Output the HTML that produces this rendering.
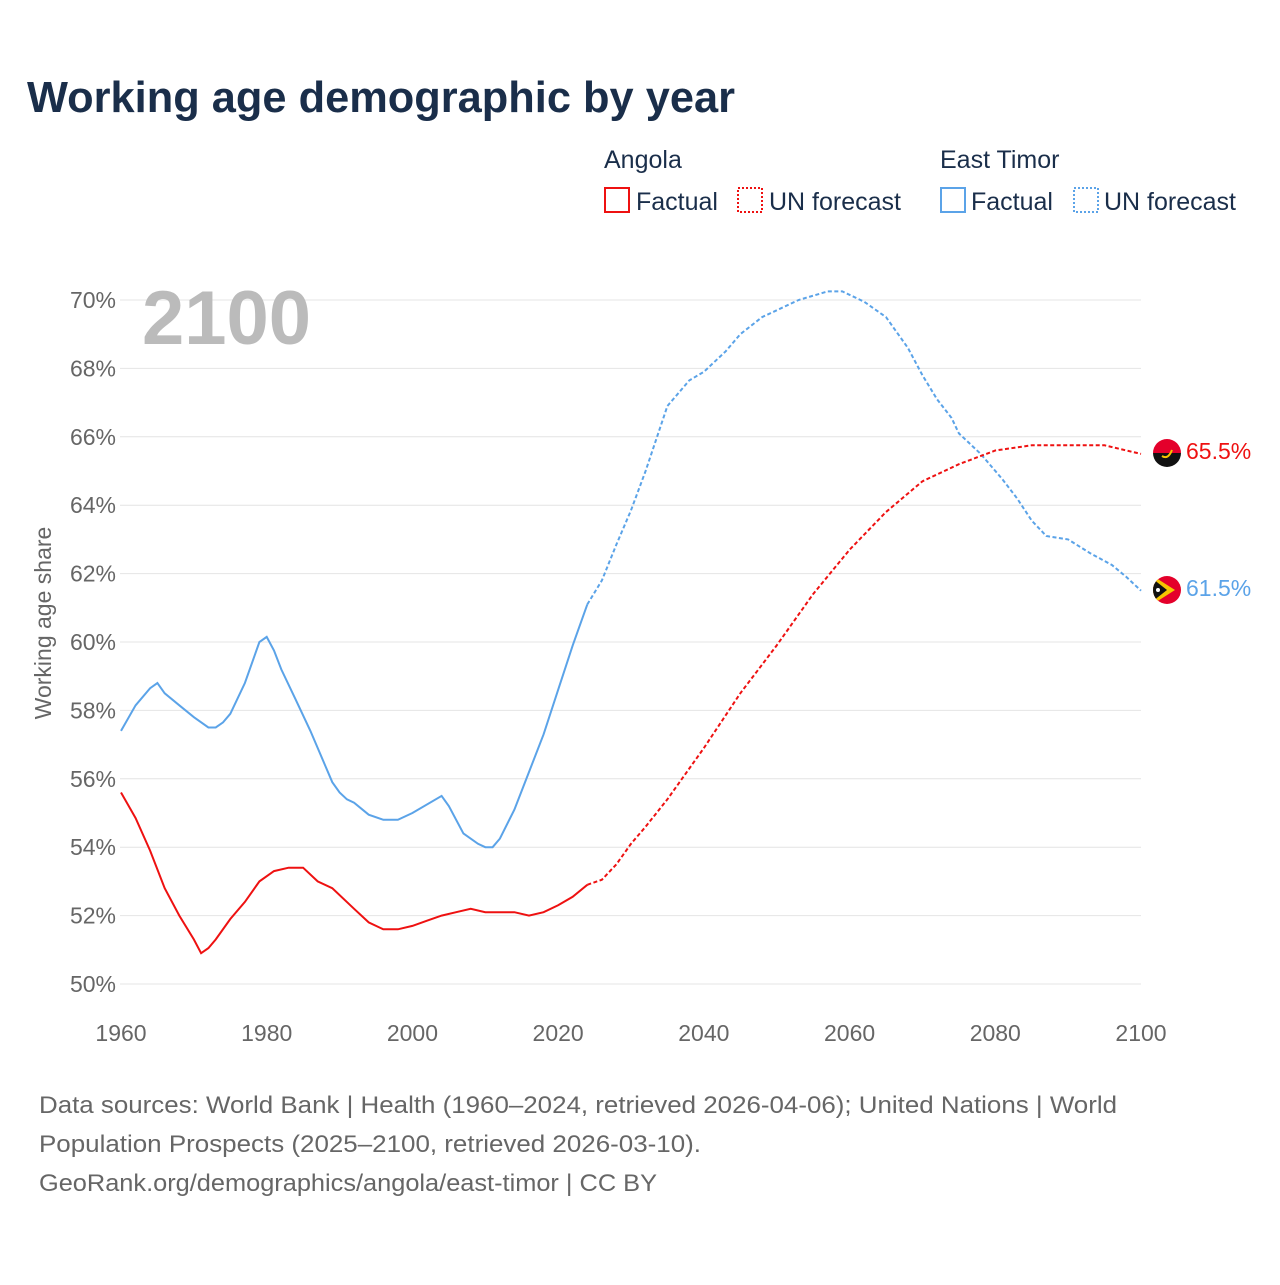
<!DOCTYPE html>
<html><head><meta charset="utf-8"><style>
body{margin:0;background:#fff;font-family:"Liberation Sans",sans-serif;}
svg text{font-family:"Liberation Sans",sans-serif;}
</style></head><body>
<svg id="c" width="1280" height="1280" viewBox="0 0 1280 1280" xmlns="http://www.w3.org/2000/svg">
<text x="27" y="112" font-size="44" font-weight="bold" fill="#1a2e4a" textLength="708" lengthAdjust="spacingAndGlyphs">Working age demographic by year</text>
<g font-size="25" fill="#1a2e4a">
<text x="604" y="168">Angola</text>
<text x="940" y="168">East Timor</text>
<g><rect x="605" y="188" width="24" height="24" fill="none" stroke="#ee1111" stroke-width="2"/><text x="636" y="210">Factual</text></g>
<g><rect x="738" y="188" width="24" height="24" fill="none" stroke="#ee1111" stroke-width="2" stroke-dasharray="2,2"/><text x="769" y="210">UN forecast</text></g>
<g><rect x="941" y="188" width="24" height="24" fill="none" stroke="#5ba3e8" stroke-width="2"/><text x="971" y="210">Factual</text></g>
<g><rect x="1074" y="188" width="24" height="24" fill="none" stroke="#5ba3e8" stroke-width="2" stroke-dasharray="2,2"/><text x="1104" y="210">UN forecast</text></g>
</g>
<g id="grid"></g>
<text x="142" y="344" font-size="76" font-weight="bold" fill="#bbbbbb">2100</text>
<text transform="translate(51,623) rotate(-90)" text-anchor="middle" font-size="23" fill="#666">Working age share</text>
<g id="series"></g>
<g>
<clipPath id="ca"><circle cx="1167" cy="453" r="14"/></clipPath>
<g clip-path="url(#ca)"><rect x="1153" y="439" width="28" height="14" fill="#e4002b"/><rect x="1153" y="453" width="28" height="14" fill="#111"/></g>
<path d="M1162 456 q6 4 10 -6" stroke="#f7c600" stroke-width="2" fill="none"/></g>
<g>
<clipPath id="ct"><circle cx="1167" cy="590" r="14"/></clipPath>
<g clip-path="url(#ct)"><rect x="1153" y="576" width="28" height="28" fill="#e4002b"/><polygon points="1153,576 1175,590 1153,604" fill="#f7c600"/><polygon points="1153,579 1167,590 1153,601" fill="#111"/></g>
<circle cx="1158" cy="590" r="2" fill="#fff"/></g>
<text x="1186" y="459" font-size="23" fill="#ee1111">65.5%</text>
<text x="1186" y="596" font-size="23" fill="#5ba3e8">61.5%</text>
<g font-size="24" fill="#666">
<text x="39" y="1113" textLength="1078" lengthAdjust="spacingAndGlyphs">Data sources: World Bank | Health (1960–2024, retrieved 2026-04-06); United Nations | World</text>
<text x="39" y="1152" textLength="662" lengthAdjust="spacingAndGlyphs">Population Prospects (2025–2100, retrieved 2026-03-10).</text>
<text x="39" y="1191" textLength="618" lengthAdjust="spacingAndGlyphs">GeoRank.org/demographics/angola/east-timor | CC BY</text>
</g>
</svg>
<script>
const yTicks=[50,52,54,56,58,60,62,64,66,68,70];
const xTicks=[1960,1980,2000,2020,2040,2060,2080,2100];
const angolaYears=[1960,1962,1964,1966,1968,1970,1971,1972,1973,1975,1977,1979,1981,1983,1985,1987,1989,1992,1994,1996,1998,2000,2002,2004,2006,2008,2010,2014,2016,2018,2020,2022,2024];
const angolaValues=[55.6,54.85,53.9,52.8,52.0,51.3,50.9,51.05,51.3,51.9,52.4,53.0,53.3,53.4,53.4,53.0,52.8,52.2,51.8,51.6,51.6,51.7,51.85,52.0,52.1,52.2,52.1,52.1,52.0,52.1,52.3,52.55,52.9];
const angolaFcYears=[2024,2026,2028,2030,2032,2035,2040,2045,2050,2055,2060,2065,2070,2075,2080,2085,2090,2095,2098,2100];
const angolaFcValues=[52.9,53.05,53.5,54.1,54.6,55.4,56.9,58.5,59.9,61.4,62.7,63.8,64.7,65.2,65.6,65.75,65.75,65.75,65.6,65.5];
const timorYears=[1960,1962,1964,1965,1966,1968,1970,1972,1973,1974,1975,1977,1979,1980,1981,1982,1984,1986,1988,1989,1990,1991,1992,1994,1996,1998,2000,2004,2005,2007,2009,2010,2011,2012,2014,2016,2018,2020,2022,2024];
const timorValues=[57.4,58.15,58.65,58.8,58.5,58.15,57.8,57.5,57.5,57.65,57.9,58.8,60.0,60.15,59.75,59.2,58.3,57.4,56.4,55.9,55.6,55.4,55.3,54.95,54.8,54.8,55.0,55.5,55.2,54.4,54.1,54.0,54.0,54.25,55.1,56.2,57.3,58.6,59.9,61.1];
const timorFcYears=[2024,2026,2028,2030,2032,2035,2038,2040,2043,2045,2048,2050,2053,2057,2059,2062,2065,2068,2070,2072,2074,2075,2078,2081,2083,2085,2087,2090,2093,2096,2098,2100];
const timorFcValues=[61.1,61.8,62.85,63.85,65.0,66.9,67.65,67.9,68.5,69.0,69.5,69.7,70.0,70.25,70.25,69.95,69.5,68.6,67.8,67.1,66.55,66.1,65.5,64.75,64.2,63.55,63.1,63.0,62.6,62.25,61.9,61.5];
const X=y=>121+(y-1960)*(1020/140);
const Y=v=>984-(v-50)*34.2;
const NS='http://www.w3.org/2000/svg';
const grid=document.getElementById('grid'),ser=document.getElementById('series');
yTicks.forEach(t=>{
 const l=document.createElementNS(NS,'line');
 l.setAttribute('x1',120);l.setAttribute('x2',1141);l.setAttribute('y1',Y(t));l.setAttribute('y2',Y(t));
 l.setAttribute('stroke','#e4e4e4');l.setAttribute('stroke-width','1');
 
 
 grid.appendChild(l);
 const tx=document.createElementNS(NS,'text');
 tx.setAttribute('x',116);tx.setAttribute('y',Y(t)+8);tx.setAttribute('text-anchor','end');
 tx.setAttribute('font-size','23');tx.setAttribute('fill','#666');tx.textContent=t+'%';
 
 
 grid.appendChild(tx);
});
xTicks.forEach(t=>{
 const tx=document.createElementNS(NS,'text');
 tx.setAttribute('x',X(t));tx.setAttribute('y',1041);tx.setAttribute('text-anchor','middle');
 tx.setAttribute('font-size','23');tx.setAttribute('fill','#666');tx.textContent=t;
 
 
 grid.appendChild(tx);
});
function line(xs,vs,color,dash,name){
 const p=document.createElementNS(NS,'path');
 p.setAttribute('d',xs.map((x,i)=>(i?'L':'M')+X(x).toFixed(1)+' '+Y(vs[i]).toFixed(1)).join(''));
 p.setAttribute('fill','none');p.setAttribute('stroke',color);p.setAttribute('stroke-width','2');
 if(dash)p.setAttribute('stroke-dasharray','4,2.5');
 
 
 ser.appendChild(p);
}
line(timorYears,timorValues,'#5ba3e8',false,'east-timor-factual-line');
line(timorFcYears,timorFcValues,'#5ba3e8',true,'east-timor-forecast-line');
line(angolaYears,angolaValues,'#ee1111',false,'angola-factual-line');
line(angolaFcYears,angolaFcValues,'#ee1111',true,'angola-forecast-line');
</script>
</body></html>
